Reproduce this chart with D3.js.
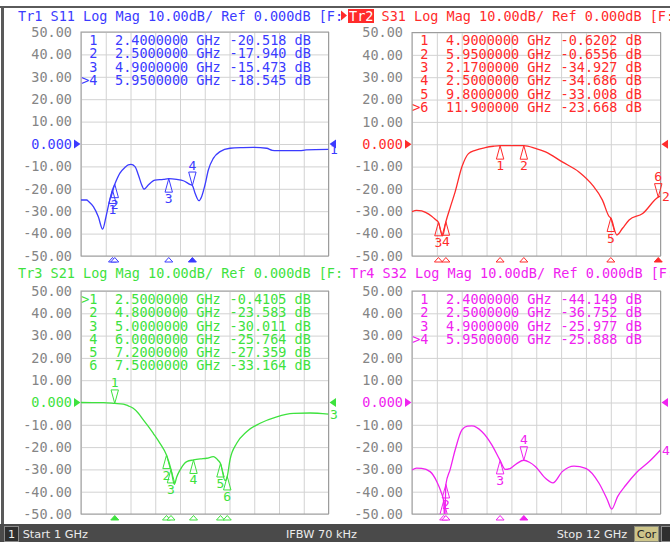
<!DOCTYPE html>
<html><head><meta charset="utf-8">
<script src="https://cdn.jsdelivr.net/npm/d3@7"></script>
<style>body{margin:0;background:#fff;} svg{display:block;}</style>
</head><body>
<svg id="c" width="670" height="542"></svg>
<script>
// ---- data ----
const yTickValues = [50, 40, 30, 20, 10, 0, -10, -20, -30, -40, -50];
const yTickLabels = ["50.00","40.00","30.00","20.00","10.00","0.000","-10.00","-20.00","-30.00","-40.00","-50.00"];
const freqStart = 1, freqStop = 12; // GHz

const s11Freq = [1.0,1.25,1.35,1.55,1.77,1.96,2.11,2.26,2.4,2.5,2.73,2.96,3.1,3.22,3.4,3.55,3.7,3.8,3.99,4.29,4.66,4.9,5.25,5.55,5.84,5.95,6.07,6.24,6.36,6.51,6.66,6.88,7.18,7.62,8.2,8.66,9.25,9.5,9.7,10.73,11.0,12.0];
const s11Db   = [-25,-25,-25.8,-28,-32.5,-38,-32.5,-25.7,-20.518,-17.94,-13,-10.4,-9.3,-9.1,-10.1,-13.8,-18.3,-20.2,-18.3,-16.1,-15.8,-15.473,-15.8,-16.4,-18.0,-18.545,-22,-25.3,-23.5,-18.3,-11.6,-6.4,-3.4,-1.9,-1.6,-1.5,-1.9,-2.8,-3.0,-3.0,-2.6,-2.4];

const s31Freq = [1.0,1.2,1.43,1.6,1.87,2.05,2.17,2.35,2.5,2.7,2.91,3.21,3.5,3.8,4.24,4.6,4.9,5.4,5.95,6.47,6.91,7.65,8.39,8.99,9.43,9.73,9.8,10.07,10.32,10.61,11.21,11.9,12.0];
const s31Db   = [-30.2,-29.6,-29.8,-30.5,-32.2,-33.8,-34.927,-41,-34.686,-28,-21.3,-10.1,-4.2,-2.7,-1.5,-0.9,-0.6202,-0.6,-0.6556,-1.9,-3.4,-7.9,-12.4,-18.3,-25,-32.4,-33.008,-40.6,-37.6,-33.9,-31,-23.668,-23.2];

const s21Freq = [1.0,1.5,2.0,2.5,2.88,3.1,3.32,3.55,3.77,4.0,4.21,4.51,4.8,5.0,5.15,5.25,5.4,5.7,6.0,6.3,6.59,6.88,7.1,7.2,7.4,7.5,7.62,7.92,8.36,8.96,9.7,10.44,11.18,12.0];
const s21Db   = [0,-0.05,-0.1,-0.4105,-0.7,-1.5,-2.6,-4.8,-7.8,-10.8,-13.8,-18.3,-23.583,-30.011,-36.7,-33.5,-30.3,-26.5,-25.764,-25.3,-25,-24.3,-26.0,-27.359,-35,-33.164,-25.8,-18.3,-13.1,-9.3,-6.4,-4.9,-4.7,-5.2];

const s32Freq = [1.0,1.2,1.43,1.8,2.1,2.3,2.4,2.45,2.5,2.69,2.91,3.21,3.45,3.65,4.1,4.54,4.9,5.13,5.36,5.65,5.95,6.2,6.47,6.91,7.24,7.65,8.17,8.69,9.28,9.65,9.84,10.1,10.47,10.91,11.5,12.0];
const s32Db   = [-30.3,-29.4,-29.5,-31,-35.5,-40.5,-44.149,-53,-36.752,-30,-21.3,-12.3,-10.6,-10.5,-13.1,-19.1,-25.977,-30,-29.5,-27.3,-25.888,-26.8,-28.8,-34,-36,-31,-28.5,-29.5,-36.2,-43.7,-47.8,-42.2,-37,-31.7,-26.5,-21.3];

const s11MarkerFreq = [2.4, 2.5, 4.9, 5.95];
const s11MarkerDb   = [-20.518, -17.940, -15.473, -18.545];
const s11MarkerFreqText = ["2.4000000","2.5000000","4.9000000","5.9500000"];
const s11MarkerDbText   = ["-20.518","-17.940","-15.473","-18.545"];

const s31MarkerFreq = [4.9, 5.95, 2.17, 2.5, 9.8, 11.9];
const s31MarkerDb   = [-0.6202, -0.6556, -34.927, -34.686, -33.008, -23.668];
const s31MarkerFreqText = ["4.9000000","5.9500000","2.1700000","2.5000000","9.8000000","11.900000"];
const s31MarkerDbText   = ["-0.6202","-0.6556","-34.927","-34.686","-33.008","-23.668"];

const s21MarkerFreq = [2.5, 4.8, 5.0, 6.0, 7.2, 7.5];
const s21MarkerDb   = [-0.4105, -23.583, -30.011, -25.764, -27.359, -33.164];
const s21MarkerFreqText = ["2.5000000","4.8000000","5.0000000","6.0000000","7.2000000","7.5000000"];
const s21MarkerDbText   = ["-0.4105","-23.583","-30.011","-25.764","-27.359","-33.164"];

const s32MarkerFreq = [2.4, 2.5, 4.9, 5.95];
const s32MarkerDb   = [-44.149, -36.752, -25.977, -25.888];
const s32MarkerFreqText = ["2.4000000","2.5000000","4.9000000","5.9500000"];
const s32MarkerDbText   = ["-44.149","-36.752","-25.977","-25.888"];

// ---- drawing ----
const svg = d3.select("#c");
const MONO = "'DejaVu Sans Mono', monospace";
const SANS = "'DejaVu Sans', sans-serif";
const FS = 13.5;

svg.append("rect").attr("width", 670).attr("height", 542).attr("fill", "#fff");
svg.append("rect").attr("x", 0).attr("y", 6).attr("width", 670).attr("height", 2).attr("fill", "#5a5a5a");
svg.append("rect").attr("x", 1).attr("y", 6).attr("width", 3).attr("height", 520).attr("fill", "#5a5a5a");

const panels = [
  {tr:"Tr1", par:"S11", n:"1", color:"#3b3bff", left:81, right:328.5, top:32, bottom:256, tx:18, ty:20.5,
   freq:s11Freq, db:s11Db, mf:s11MarkerFreq, md:s11MarkerDb, mft:s11MarkerFreqText, mdt:s11MarkerDbText, active:3, hl:false},
  {tr:"Tr2", par:"S31", n:"2", color:"#ff2b2b", left:412, right:660.5, top:32.5, bottom:256, tx:349, ty:20.5,
   freq:s31Freq, db:s31Db, mf:s31MarkerFreq, md:s31MarkerDb, mft:s31MarkerFreqText, mdt:s31MarkerDbText, active:5, hl:true},
  {tr:"Tr3", par:"S21", n:"3", color:"#3ee23e", left:81, right:328.5, top:291, bottom:514, tx:18, ty:278.3,
   freq:s21Freq, db:s21Db, mf:s21MarkerFreq, md:s21MarkerDb, mft:s21MarkerFreqText, mdt:s21MarkerDbText, active:0, hl:false},
  {tr:"Tr4", par:"S32", n:"4", color:"#f022f0", left:412, right:660.5, top:291, bottom:514, tx:350, ty:278.3,
   freq:s32Freq, db:s32Db, mf:s32MarkerFreq, md:s32MarkerDb, mft:s32MarkerFreqText, mdt:s32MarkerDbText, active:3, hl:false}
];

panels.forEach((p, pi) => {
  const x = d3.scaleLinear().domain([freqStart, freqStop]).range([p.left, p.right]);
  const y = d3.scaleLinear().domain([-50, 50]).range([p.bottom, p.top]);
  const g = svg.append("g");
  const W = p.right - p.left, H = p.bottom - p.top;

  // title
  if (p.hl) {
    g.append("path").attr("d", `M341,10.5 L347,15.5 L341,20.5 Z`).attr("fill", p.color);
    g.append("rect").attr("x", p.tx - 1).attr("y", 9).attr("width", 26).attr("height", 14).attr("fill", p.color);
  }
  const title = g.append("text").attr("x", p.tx).attr("y", p.ty)
    .attr("font-family", MONO).attr("font-size", FS).attr("fill", p.color);
  title.append("tspan").attr("fill", p.hl ? "#fff" : p.color).text(p.tr);
  title.append("tspan").text(` ${p.par} Log Mag 10.00dB/ Ref 0.000dB [F:`);

  // vertical grid
  const xGrid = d3.range(0, 11).map(i => freqStart + i * (freqStop - freqStart) / 10);
  g.append("g").attr("transform", `translate(0,${p.bottom})`)
    .call(d3.axisBottom(x).tickValues(xGrid).tickSize(-H).tickFormat(""))
    .call(a => a.select(".domain").remove())
    .call(a => a.selectAll("line").attr("stroke", "#d2d2d2"));

  // horizontal grid + labels
  g.append("g").attr("transform", `translate(${p.left},0)`)
    .call(d3.axisLeft(y).tickValues(yTickValues).tickFormat((d, i) => yTickLabels[i]).tickSize(-W).tickPadding(9))
    .call(a => a.select(".domain").remove())
    .call(a => a.selectAll("line").attr("stroke", "#d2d2d2"))
    .call(a => a.selectAll("text").attr("font-family", MONO).attr("font-size", FS)
        .attr("fill", d => d === 0 ? p.color : "#858585"));

  g.append("rect").attr("x", p.left).attr("y", p.top).attr("width", W).attr("height", H)
    .attr("fill", "none").attr("stroke", "#9c9c9c");

  // ref arrows
  const y0 = y(0);
  g.append("path").attr("d", `M${p.left - 7},${y0 - 4.5} L${p.left - 0.5},${y0} L${p.left - 7},${y0 + 4.5} Z`).attr("fill", p.color);
  g.append("path").attr("d", `M${p.right + 7.5},${y0 - 4.5} L${p.right + 1},${y0} L${p.right + 7.5},${y0 + 4.5} Z`).attr("fill", p.color);

  // marker table
  const tbl = g.append("g").attr("font-family", MONO).attr("font-size", FS).attr("fill", p.color);
  p.mf.forEach((f, i) => {
    const by = p.top + 12.9 + i * 13.3;
    tbl.append("text").attr("x", p.left + 16.5).attr("y", by).attr("text-anchor", "end")
      .text((i === p.active ? ">" : "") + (i + 1));
    tbl.append("text").attr("x", p.left + 34).attr("y", by).text(p.mft[i] + " GHz");
    tbl.append("text").attr("x", p.left + 148.5).attr("y", by).text(p.mdt[i] + " dB");
  });

  // clip
  const cid = "clip" + pi;
  svg.append("clipPath").attr("id", cid).append("rect")
    .attr("x", p.left).attr("y", p.top).attr("width", W).attr("height", H);

  // trace
  const pts = p.freq.map((f, i) => [f, p.db[i]]);
  const line = d3.line().x(d => x(d[0])).y(d => y(d[1])).curve(d3.curveMonotoneX);
  g.append("path").attr("d", line(pts)).attr("fill", "none").attr("stroke", p.color)
    .attr("stroke-width", 1.3).attr("clip-path", `url(#${cid})`);

  // trace end label
  const last = pts[pts.length - 1];
  g.append("text").attr("x", p.right + 1.5).attr("y", y(last[1])).attr("dy", "0.36em")
    .attr("font-family", MONO).attr("font-size", 13).attr("fill", p.color).text(p.n);

  // markers on trace
  const mg = g.append("g").attr("clip-path", `url(#${cid}m)`);
  svg.append("clipPath").attr("id", cid + "m").append("rect")
    .attr("x", p.left - 10).attr("y", p.top).attr("width", W + 20).attr("height", H);
  p.mf.forEach((f, i) => {
    const mx = x(f), my = y(p.md[i]);
    if (i === p.active) {
      mg.append("path").attr("d", `M${mx},${my} L${mx - 3.7},${my - 13.5} L${mx + 3.7},${my - 13.5} Z`)
        .attr("fill", "none").attr("stroke", p.color).attr("stroke-width", 1);
      mg.append("text").attr("x", mx).attr("y", my - 16).attr("text-anchor", "middle")
        .attr("font-family", MONO).attr("font-size", 13).attr("fill", p.color).text(i + 1);
    } else {
      mg.append("path").attr("d", `M${mx},${my} L${mx - 3.7},${my + 13.5} L${mx + 3.7},${my + 13.5} Z`)
        .attr("fill", "none").attr("stroke", p.color).attr("stroke-width", 1);
      mg.append("text").attr("x", mx).attr("y", my + 24.5).attr("text-anchor", "middle")
        .attr("font-family", MONO).attr("font-size", 13).attr("fill", p.color).text(i + 1);
    }
    // strip marker below the grid
    const sy = p.bottom;
    g.append("path").attr("d", `M${mx},${sy + 1.5} L${mx - 4},${sy + 6} L${mx + 4},${sy + 6} Z`)
      .attr("fill", i === p.active ? p.color : "#fff").attr("stroke", p.color).attr("stroke-width", 1);
  });
});

// status bar
const sb = svg.append("g");
sb.append("rect").attr("x", 0).attr("y", 524).attr("width", 670).attr("height", 18).attr("fill", "#4a4a4a");
sb.append("rect").attr("x", 4.5).attr("y", 526.5).attr("width", 14).attr("height", 15).attr("fill", "#2e2e2e").attr("stroke", "#8a8a8a");
sb.append("text").attr("x", 11.5).attr("y", 538.3).attr("text-anchor", "middle").attr("font-family", SANS).attr("font-size", 11.3).attr("fill", "#f0f0f0").text("1");
sb.append("text").attr("x", 22.7).attr("y", 538.3).attr("font-family", SANS).attr("font-size", 11.3).attr("fill", "#ececec").text("Start 1 GHz");
sb.append("text").attr("x", 286).attr("y", 538.3).attr("font-family", SANS).attr("font-size", 11.3).attr("fill", "#ececec").text("IFBW 70 kHz");
sb.append("text").attr("x", 556.7).attr("y", 538.3).attr("font-family", SANS).attr("font-size", 11.3).attr("fill", "#ececec").text("Stop 12 GHz");
sb.append("rect").attr("x", 634.5).attr("y", 526.5).attr("width", 24).attr("height", 15).attr("fill", "#cdc58a").attr("stroke", "#8a8a7a");
sb.append("text").attr("x", 646.5).attr("y", 538.3).attr("text-anchor", "middle").attr("font-family", SANS).attr("font-size", 11.3).attr("fill", "#222").text("Cor");
sb.append("rect").attr("x", 661.5).attr("y", 526.5).attr("width", 10).attr("height", 15).attr("fill", "#2e2e2e").attr("stroke", "#8a8a8a");
</script>
</body></html>
